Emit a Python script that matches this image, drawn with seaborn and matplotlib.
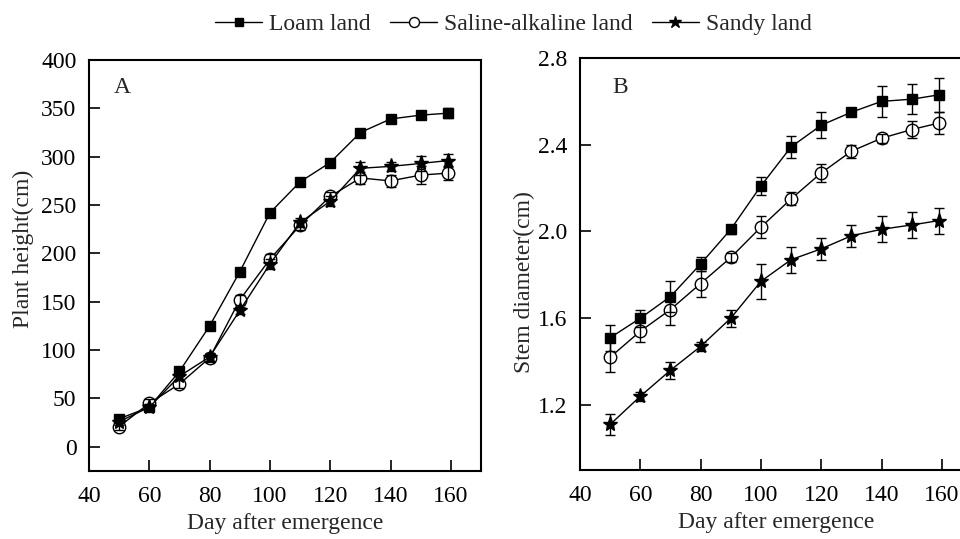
import numpy as np
import pandas as pd
import matplotlib
matplotlib.use("Agg")
import matplotlib.pyplot as plt
import seaborn as sns
from matplotlib.lines import Line2D

# ---------------- data ----------------
days = [50, 60, 70, 80, 90, 100, 110, 120, 130, 140, 150, 159]
series_names = ["Loam land", "Saline-alkaline land", "Sandy land"]

height_loam = [29, 41, 78, 125, 181, 242, 274, 294, 325, 339, 343, 345]
height_saline = [21, 45, 65, 92, 152, 194, 229, 259, 278, 275, 281, 283]
height_sandy = [26, 41, 73, 93, 141, 189, 232, 254, 288, 290, 293, 296]
height_loam_err = [3, 3, 4, 4, 4, 4, 4, 4, 4, 3, 4, 5]
height_saline_err = [4, 4, 4, 4, 5, 5, 5, 5, 6, 6, 9, 7]
height_sandy_err = [3, 3, 4, 4, 4, 5, 5, 5, 7, 5, 8, 7]

stem_loam = [1.51, 1.60, 1.70, 1.85, 2.01, 2.21, 2.39, 2.49, 2.55, 2.60, 2.61, 2.63]
stem_saline = [1.42, 1.54, 1.64, 1.76, 1.88, 2.02, 2.15, 2.27, 2.37, 2.43, 2.47, 2.50]
stem_sandy = [1.11, 1.24, 1.36, 1.47, 1.60, 1.77, 1.87, 1.92, 1.98, 2.01, 2.03, 2.05]
stem_loam_err = [0.06, 0.04, 0.07, 0.03, 0.02, 0.04, 0.05, 0.06, 0.01, 0.07, 0.07, 0.08]
stem_saline_err = [0.07, 0.05, 0.07, 0.06, 0.02, 0.05, 0.03, 0.04, 0.03, 0.02, 0.04, 0.05]
stem_sandy_err = [0.05, 0.02, 0.04, 0.02, 0.04, 0.08, 0.06, 0.05, 0.05, 0.06, 0.06, 0.06]

height_x_ticks = [40, 60, 80, 100, 120, 140, 160]
height_y_ticks = [0, 50, 100, 150, 200, 250, 300, 350, 400]
stem_y_ticks = [1.2, 1.6, 2.0, 2.4, 2.8]
stem_y_labels = ["1.2", "1.6", "2.0", "2.4", "2.8"]

# ---------------- style ----------------
sns.set_theme(style="white")
plt.rcParams["font.family"] = ["Liberation Serif", "DejaVu Serif"]

styles = {
    "Loam land": dict(marker="s", mfc="black", mec="black", ms=7.5),
    "Saline-alkaline land": dict(marker="o", mfc="white", mec="black", ms=9),
    "Sandy land": dict(marker="*", mfc="black", mec="black", ms=11),
}

fig = plt.figure(figsize=(9.6, 5.39), dpi=100)
axA = fig.add_axes([89 / 960, (539 - 471) / 539, 392 / 960, 411 / 539])
axB = fig.add_axes([580 / 960, (539 - 470) / 539, 392 / 960, 412 / 539])


def draw(ax, vals, errs):
    for name, v, e in zip(series_names, vals, errs):
        df = pd.DataFrame({"day": days, "val": v})
        st = styles[name]
        sns.lineplot(data=df, x="day", y="val", ax=ax, color="black", lw=1.0,
                     marker=st["marker"], markerfacecolor=st["mfc"],
                     markeredgecolor=st["mec"], markersize=st["ms"],
                     markeredgewidth=1.0, legend=False, zorder=3)
        ax.errorbar(days, v, yerr=e, fmt="none", ecolor="black",
                    elinewidth=1.0, capsize=3.5, capthick=1.0, zorder=4)


draw(axA, [height_loam, height_saline, height_sandy],
     [height_loam_err, height_saline_err, height_sandy_err])
draw(axB, [stem_loam, stem_saline, stem_sandy],
     [stem_loam_err, stem_saline_err, stem_sandy_err])

fs = 17
for ax in (axA, axB):
    ax.set_xlim(40, 170)
    ax.set_xticks(height_x_ticks)
    for sp in ax.spines.values():
        sp.set_visible(True)
        sp.set_color("black")
        sp.set_linewidth(1.5)
    ax.tick_params(axis="both", direction="in", length=8, width=1.2,
                   labelsize=fs, colors="black",
                   bottom=True, left=True, top=False, right=False)
    ax.tick_params(axis="x", pad=11)
    ax.tick_params(axis="y", pad=9)
    ax.set_xlabel("Day after emergence", fontsize=fs, labelpad=4)
    ax.grid(False)

axA.set_ylim(-25, 400)
axA.set_yticks(height_y_ticks)
axA.set_ylabel("Plant height(cm)", fontsize=fs)
axA.yaxis.set_label_coords(-0.14, 0.54)
axA.text(0.064, 0.92, "A", transform=axA.transAxes, fontsize=fs,
         ha="left", va="baseline")

axB.set_ylim(0.9, 2.8)
axB.set_yticks(stem_y_ticks)
axB.set_yticklabels(stem_y_labels)
axB.set_ylabel("Stem diameter(cm)", fontsize=fs)
axB.yaxis.set_label_coords(-0.115, 0.456)
axB.text(0.082, 0.915, "B", transform=axB.transAxes, fontsize=fs,
         ha="left", va="baseline")

handles = []
for name in series_names:
    st = styles[name]
    handles.append(Line2D([0], [0], color="black", lw=1.0,
                          marker=st["marker"], markerfacecolor=st["mfc"],
                          markeredgecolor=st["mec"],
                          markersize=st["ms"] * 0.8))
fig.legend(handles, series_names, loc="center", bbox_to_anchor=(0.535, 0.955),
           ncol=3, frameon=False, fontsize=17, handlelength=2.0,
           handletextpad=0.3, columnspacing=0.8, borderaxespad=0)

fig.savefig("out.png", dpi=100)
